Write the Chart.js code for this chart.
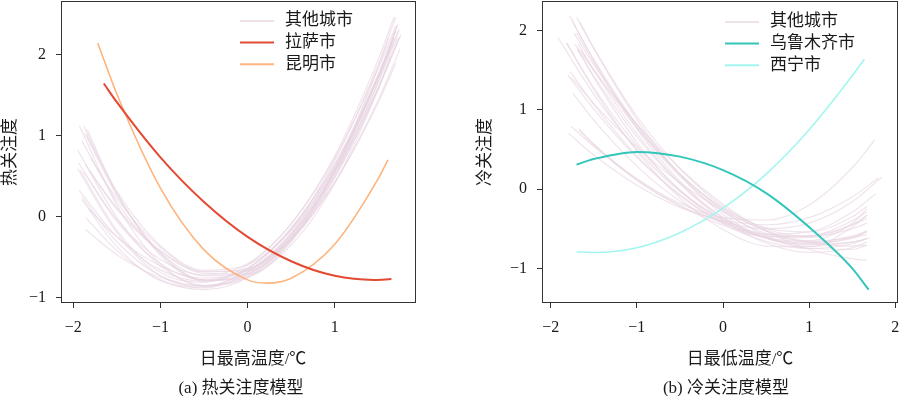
<!DOCTYPE html>
<html>
<head>
<meta charset="utf-8">
<script src="https://cdn.jsdelivr.net/npm/chart.js@4.4.0/dist/chart.umd.min.js"></script>
<style>
  body { margin: 0; background: #fff; }
  #wrap { position: relative; width: 900px; height: 396px; background: #fff; }
  canvas { position: absolute; top: 0; }
  .txt { position: absolute; white-space: nowrap; transform: translate(-50%, -50%);
         font: 17px 'Liberation Serif', 'Noto Sans CJK SC', serif; line-height: 1; color: #1a1a1a; }
</style>
</head>
<body>
<div id="wrap">
  <canvas id="heat" width="450" height="396" style="left:0"></canvas>
  <canvas id="cold" width="450" height="396" style="left:450px"></canvas>
  <div class="txt" id="heatXTitle" style="left:253px; top:358px"></div>
  <div class="txt" id="heatCaption" style="left:241px; top:387px"></div>
  <div class="txt" id="coldXTitle" style="left:740px; top:358px"></div>
  <div class="txt" id="coldCaption" style="left:726px; top:387px"></div>
</div>
<script>
// ---- data: (a) heat attention ----
var heatTicksX = [-2, -1, 0, 1];
var heatTicksY = [-1, 0, 1, 2];
var heatGrid = [-1.5, -1, -0.5, 0, 0.5, 1, 1.5];   // shared interior x samples
var heatOtherStartX = [-1.93, -1.84, -1.95, -1.90, -1.86, -1.86, -1.92, -1.80, -1.88, -1.95,
                       -1.85, -1.90, -1.82, -1.93, -1.87, -1.90, -1.83, -1.94, -1.86, -1.88];
var heatOtherEndX = [1.70, 1.72, 1.68, 1.65, 1.75, 1.74, 1.70, 1.66, 1.70, 1.72,
                     1.68, 1.76, 1.64, 1.70, 1.62, 1.73, 1.70, 1.68, 1.74, 1.72];
// each row: y at start, y at heatGrid points, y at end
var heatOtherY = [
  [1.12, 0.14, -0.58, -0.85, -0.71, -0.24, 0.58, 1.74, 2.29],
  [1.07, 0.29, -0.48, -0.79, -0.69, -0.23, 0.57, 1.73, 2.35],
  [0.59, -0.20, -0.73, -0.88, -0.69, -0.20, 0.61, 1.73, 2.20],
  [0.93, 0.18, -0.45, -0.73, -0.66, -0.23, 0.56, 1.71, 2.13],
  [0.64, 0.09, -0.43, -0.68, -0.64, -0.28, 0.42, 1.44, 2.07],
  [-0.01, -0.42, -0.78, -0.90, -0.75, -0.28, 0.50, 1.58, 2.21],
  [0.57, -0.17, -0.69, -0.81, -0.60, -0.09, 0.72, 1.83, 2.35],
  [0.72, 0.22, -0.38, -0.68, -0.67, -0.28, 0.50, 1.67, 2.13],
  [0.55, -0.06, -0.58, -0.78, -0.64, -0.15, 0.69, 1.88, 2.46],
  [0.82, -0.01, -0.61, -0.85, -0.75, -0.31, 0.47, 1.59, 2.20],
  [1.01, 0.31, -0.36, -0.66, -0.59, -0.17, 0.60, 1.72, 2.20],
  [0.24, -0.31, -0.73, -0.85, -0.67, -0.21, 0.54, 1.59, 2.24],
  [0.57, 0.11, -0.42, -0.70, -0.71, -0.35, 0.41, 1.57, 1.97],
  [0.32, -0.25, -0.66, -0.80, -0.64, -0.16, 0.64, 1.76, 2.30],
  [1.03, 0.26, -0.45, -0.79, -0.75, -0.30, 0.57, 1.84, 2.20],
  [0.21, -0.37, -0.79, -0.87, -0.64, -0.14, 0.64, 1.71, 2.29],
  [0.10, -0.25, -0.61, -0.76, -0.66, -0.27, 0.42, 1.41, 1.89],
  [0.66, -0.04, -0.53, -0.72, -0.58, -0.09, 0.75, 1.94, 2.46],
  [-0.16, -0.47, -0.75, -0.86, -0.73, -0.26, 0.53, 1.65, 2.31],
  [1.12, 0.28, -0.45, -0.78, -0.71, -0.27, 0.55, 1.73, 2.37]
];
var lhasaX = [-1.65, -1.5, -1, -0.5, 0, 0.5, 1, 1.45, 1.65];
var lhasaY = [1.64, 1.41, 0.73, 0.18, -0.25, -0.55, -0.73, -0.78, -0.77];
var kunmingX = [-1.72, -1.5, -1, -0.5, 0, 0.22, 0.5, 1, 1.5, 1.61];
var kunmingY = [2.14, 1.51, 0.35, -0.41, -0.78, -0.82, -0.76, -0.34, 0.47, 0.70];

// ---- data: (b) cold attention ----
var coldTicksX = [-2, -1, 0, 1, 2];
var coldTicksY = [-1, 0, 1, 2];
var coldGrid = [-1.5, -1, -0.5, 0, 0.5, 1, 1.5];
var coldOtherStartX = [-1.78, -1.66, -1.92, -1.69, -1.80, -1.67, -1.76, -1.67, -1.72, -1.75, -1.70,
                       -1.74, -1.68, -1.82, -1.73, -1.77, -1.70, -1.76, -1.65, -1.79, -1.69, -1.81];
var coldOtherEndX = [1.67, 1.70, 1.67, 1.67, 1.67, 1.76, 1.67, 1.84, 1.67, 1.67, 1.67,
                     1.77, 1.67, 1.67, 1.67, 1.67, 1.67, 1.67, 1.67, 1.80, 1.67, 1.67];
var coldOtherY = [
  [2.19, 1.62, 0.76, 0.10, -0.36, -0.62, -0.68, -0.59, -0.53],
  [2.11, 1.78, 0.88, 0.18, -0.32, -0.62, -0.72, -0.67, -0.62],
  [1.92, 1.20, 0.50, -0.03, -0.38, -0.57, -0.59, -0.45, -0.37],
  [1.78, 1.41, 0.59, -0.02, -0.41, -0.60, -0.59, -0.40, -0.29],
  [1.44, 1.01, 0.40, -0.08, -0.44, -0.66, -0.75, -0.69, -0.62],
  [0.76, 0.57, 0.13, -0.18, -0.36, -0.39, -0.20, 0.27, 0.62],
  [0.79, 0.54, 0.12, -0.21, -0.46, -0.62, -0.69, -0.67, -0.63],
  [0.74, 0.56, 0.11, -0.21, -0.41, -0.50, -0.43, -0.16, 0.15],
  [1.83, 1.50, 0.82, 0.26, -0.19, -0.53, -0.76, -0.88, -0.90],
  [2.12, 1.64, 0.82, 0.19, -0.24, -0.49, -0.54, -0.35, -0.22],
  [1.97, 1.60, 0.79, 0.16, -0.29, -0.56, -0.65, -0.43, -0.25],
  [1.21, 0.87, 0.29, -0.15, -0.43, -0.57, -0.54, -0.29, -0.06],
  [1.83, 1.50, 0.70, 0.07, -0.39, -0.68, -0.80, -0.74, -0.67],
  [1.85, 1.28, 0.55, -0.01, -0.39, -0.59, -0.61, -0.50, -0.43],
  [1.97, 1.57, 0.81, 0.19, -0.27, -0.59, -0.75, -0.76, -0.71],
  [1.48, 1.07, 0.42, -0.07, -0.42, -0.61, -0.66, -0.61, -0.57],
  [2.17, 1.78, 0.92, 0.26, -0.22, -0.50, -0.60, -0.45, -0.33],
  [1.41, 1.08, 0.53, 0.08, -0.27, -0.52, -0.67, -0.72, -0.71],
  [1.76, 1.51, 0.77, 0.19, -0.25, -0.53, -0.67, -0.62, -0.53],
  [0.70, 0.43, 0.05, -0.23, -0.39, -0.45, -0.36, -0.10, 0.14],
  [1.76, 1.43, 0.66, 0.07, -0.36, -0.62, -0.70, -0.61, -0.54],
  [1.84, 1.26, 0.48, -0.11, -0.51, -0.72, -0.73, -0.48, -0.33]
];
var urumqiX = [-1.7, -1.5, -1, -0.5, 0, 0.5, 1, 1.5, 1.69];
var urumqiY = [0.31, 0.38, 0.47, 0.41, 0.24, -0.05, -0.48, -1.0, -1.27];
var xiningX = [-1.7, -1.5, -1, -0.5, 0, 0.5, 1, 1.5, 1.64];
var xiningY = [-0.79, -0.80, -0.74, -0.55, -0.24, 0.19, 0.75, 1.43, 1.64];

// ---- texts ----
var otherLabel = '其他城市';
var heatLabels = [otherLabel, '拉萨市', '昆明市'];
var coldLabels = [otherLabel, '乌鲁木齐市', '西宁市'];
document.getElementById('heatXTitle').textContent = '日最高温度/℃';
document.getElementById('heatCaption').textContent = '(a) 热关注度模型';
document.getElementById('coldXTitle').textContent = '日最低温度/℃';
document.getElementById('coldCaption').textContent = '(b) 冷关注度模型';

var FONT = "'Liberation Serif', 'Noto Sans CJK SC', serif";
var INK = '#1a1a1a';
var PINK = 'rgba(230,212,224,0.62)';

function zip(xs, ys) {
    return xs.map(function (x, i) { return { x: x, y: ys[i] }; });
}

function otherDatasets(startX, endX, grid, rows) {
    return rows.map(function (row, i) {
        var xs = [startX[i]].concat(grid, [endX[i]]);
        return {
            label: i === 0 ? otherLabel : '',
            data: zip(xs, row),
            borderColor: PINK,
            borderWidth: 1.2,
            order: 1
        };
    });
}

function minus(v) {
    return v < 0 ? '\u2212' + Math.abs(v) : '' + v;
}

// box round the plot area + legend inside it
var framePlugin = {
    id: 'frame',
    afterDatasetsDraw: function (chart, args, opts) {
        var ctx = chart.ctx, a = chart.chartArea;
        ctx.save();
        ctx.strokeStyle = '#333';
        ctx.lineWidth = 1;
        ctx.strokeRect(Math.round(a.left) + 0.5, Math.round(a.top) + 0.5,
                       Math.round(a.width) - 1, Math.round(a.height) - 1);
        var y = opts.y0;
        opts.labels.forEach(function (label) {
            var ds = chart.data.datasets.find(function (d) { return d.label === label; });
            ctx.strokeStyle = label === otherLabel ? '#eee1e9' : ds.borderColor;
            ctx.lineWidth = 2;
            ctx.beginPath();
            ctx.moveTo(opts.x, y);
            ctx.lineTo(opts.x + 34, y);
            ctx.stroke();
            ctx.fillStyle = INK;
            ctx.font = '17px ' + FONT;
            ctx.textBaseline = 'middle';
            ctx.textAlign = 'left';
            ctx.fillText(label, opts.x + 45, y);
            y += opts.dy;
        });
        ctx.restore();
    }
};

function makeChart(id, cfg) {
    var ctx = document.getElementById(id).getContext('2d');
    return new Chart(ctx, {
        type: 'line',
        data: { datasets: cfg.datasets },
        options: {
            responsive: false,
            animation: false,
            devicePixelRatio: 1,
            layout: { padding: cfg.padding },
            elements: {
                point: { radius: 0 },
                line: { cubicInterpolationMode: 'monotone', fill: false }
            },
            plugins: {
                legend: { display: false },
                tooltip: { enabled: false },
                frame: cfg.legend
            },
            scales: {
                x: {
                    type: 'linear',
                    min: cfg.xMin, max: cfg.xMax,
                    afterBuildTicks: function (s) { s.ticks = cfg.ticksX.map(function (v) { return { value: v }; }); },
                    afterFit: function (s) { s.height = cfg.xHeight; s.paddingLeft = 0; s.paddingRight = 0; },
                    grid: { drawOnChartArea: false, drawTicks: true, tickLength: 5, color: '#333' },
                    border: { display: false },
                    ticks: { font: { family: FONT, size: 16 }, color: INK, padding: 10, maxRotation: 0,
                             callback: minus }
                },
                y: {
                    type: 'linear',
                    min: cfg.yMin, max: cfg.yMax,
                    afterBuildTicks: function (s) { s.ticks = cfg.ticksY.map(function (v) { return { value: v }; }); },
                    afterFit: function (s) { s.width = cfg.yWidth; s.paddingTop = 0; s.paddingBottom = 0; },
                    grid: { drawOnChartArea: false, drawTicks: true, tickLength: 5, color: '#333' },
                    border: { display: false },
                    ticks: { font: { family: FONT, size: 16 }, color: INK, padding: 10, callback: minus },
                    title: { display: true, text: cfg.yTitle, color: INK,
                             font: { family: FONT, size: 17 }, padding: { top: cfg.yTitlePad, bottom: 0 } }
                }
            }
        },
        plugins: [framePlugin]
    });
}

makeChart('heat', {
    datasets: [
        { label: '拉萨市', data: zip(lhasaX, lhasaY), borderColor: '#e34a33', borderWidth: 2, order: 0 },
        { label: '昆明市', data: zip(kunmingX, kunmingY), borderColor: '#fdb47f', borderWidth: 1.6, order: 0 }
    ].concat(otherDatasets(heatOtherStartX, heatOtherEndX, heatGrid, heatOtherY)),
    padding: { top: 1, right: 34, bottom: 0, left: 0 },
    xMin: -2.141, xMax: 1.932, yMin: -1.065, yMax: 2.657,
    ticksX: heatTicksX, ticksY: heatTicksY,
    xHeight: 93, yWidth: 61,
    yTitle: '热关注度', yTitlePad: 0,
    legend: { labels: heatLabels, x: 240, y0: 21, dy: 21.6 }
});

makeChart('cold', {
    datasets: [
        { label: '乌鲁木齐市', data: zip(urumqiX, urumqiY), borderColor: '#33c6ba', borderWidth: 2, order: 0 },
        { label: '西宁市', data: zip(xiningX, xiningY), borderColor: '#a3f6f0', borderWidth: 1.6, order: 0 }
    ].concat(otherDatasets(coldOtherStartX, coldOtherEndX, coldGrid, coldOtherY)),
    padding: { top: 1, right: 2, bottom: 0, left: 0 },
    xMin: -2.101, xMax: 2.031, yMin: -1.438, yMax: 2.375,
    ticksX: coldTicksX, ticksY: coldTicksY,
    xHeight: 93, yWidth: 92,
    yTitle: '冷关注度', yTitlePad: 25,
    legend: { labels: coldLabels, x: 275, y0: 22, dy: 21.6 }
});
</script>
</body>
</html>
